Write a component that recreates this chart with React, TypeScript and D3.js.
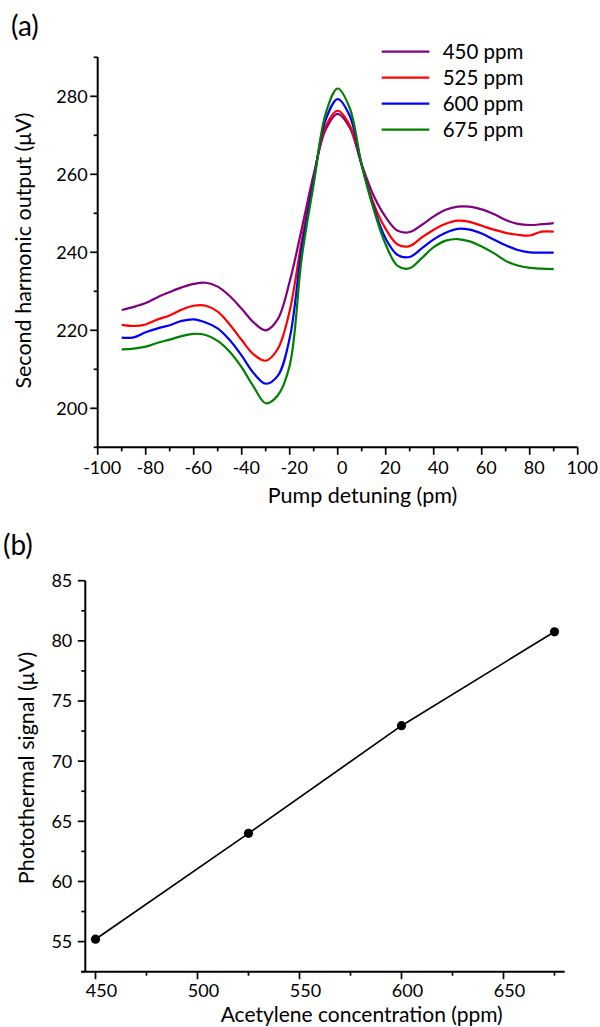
import React from "react";
import * as d3 from "d3";

// ---------- Panel (a) data ----------
const detuning = [-90, -85, -80, -75, -70, -65, -60, -55, -50, -45, -40, -35, -30, -25, -20, -15, -10, -5, 0, 5, 10, 15, 20, 25, 30, 35, 40, 45, 50, 55, 60, 65, 70, 75, 80, 85, 90];
const ppm450 = [225.2, 226.0, 227.0, 228.5, 229.8, 231.0, 231.9, 232.2, 231.2, 228.8, 225.5, 222.0, 220.0, 222.8, 232.5, 246.0, 260.0, 271.5, 275.5, 272.0, 262.5, 254.5, 249.0, 245.5, 245.2, 247.0, 249.2, 250.9, 251.7, 251.7, 251.0, 249.8, 248.3, 247.3, 247.0, 247.2, 247.5];
const ppm525 = [221.4, 221.1, 221.5, 222.8, 223.8, 225.3, 226.3, 226.3, 224.8, 221.5, 217.5, 213.8, 212.2, 215.2, 225.0, 243.0, 259.0, 272.3, 276.3, 272.6, 262.4, 252.5, 246.0, 242.0, 241.6, 243.8, 245.8, 247.3, 248.1, 247.8, 246.8, 245.8, 245.0, 244.5, 244.3, 245.3, 245.3];
const ppm600 = [218.1, 218.2, 219.5, 220.5, 221.3, 222.4, 222.8, 222.0, 220.5, 217.5, 213.5, 209.0, 206.3, 208.3, 218.0, 241.0, 258.5, 274.0, 279.3, 275.0, 262.4, 251.5, 243.5, 239.3, 238.8, 241.0, 243.3, 245.0, 246.0, 245.8, 244.8, 243.3, 241.8, 240.6, 240.0, 239.9, 239.9];
const ppm675 = [215.1, 215.3, 215.8, 216.8, 217.6, 218.5, 219.1, 218.8, 217.3, 214.5, 210.5, 205.5, 201.3, 203.3, 211.0, 238.5, 257.5, 275.6, 282.0, 277.0, 262.4, 251.0, 242.0, 236.5, 235.9, 238.5, 241.3, 243.0, 243.4, 242.8, 241.5, 239.8, 237.8, 236.6, 236.0, 235.8, 235.7];
const seriesNames = ["450 ppm", "525 ppm", "600 ppm", "675 ppm"];
const seriesColors = ["#800080", "#ff0000", "#0000ff", "#008000"];
const xTicksA = [-100, -80, -60, -40, -20, 0, 20, 40, 60, 80, 100];
const xMinorA = [-90, -70, -50, -30, -10, 10, 30, 50, 70, 90];
const yTicksA = [200, 220, 240, 260, 280];
const yMinorA = [190, 210, 230, 250, 270, 290];

// ---------- Panel (b) data ----------
const concentration = [450, 525, 600, 675];
const photothermal = [55.2, 64.0, 72.95, 80.75];
const xTicksB = [450, 500, 550, 600, 650];
const xMinorB = [475, 525, 575, 625, 675];
const yTicksB = [55, 60, 65, 70, 75, 80, 85];
const yMinorB = [52.5, 57.5, 62.5, 67.5, 72.5, 77.5, 82.5];

const FONT = "Lato, 'Open Sans', sans-serif";

export default function App() {
  // Panel (a) scales
  const xA = d3.scaleLinear().domain([-100, 100]).range([97.7, 577.7]);
  const yA = d3.scaleLinear().domain([190, 290]).range([447.3, 57.3]);
  const allSeries = [ppm450, ppm525, ppm600, ppm675];
  const lineA = d3
    .line<number>()
    .x((_, i) => xA(detuning[i]))
    .y((d) => yA(d))
    .curve(d3.curveCatmullRom.alpha(0.5));

  // Panel (b) scales
  const xB = d3.scaleLinear().domain([445, 680]).range([85.3, 564.7]);
  const yB = d3.scaleLinear().domain([52.5, 85]).range([971.7, 580.7]);
  const lineB = d3
    .line<number>()
    .x((_, i) => xB(concentration[i]))
    .y((d) => yB(d));

  const axisColor = "#000";
  const tickFont = 18;

  return (
    <svg width={600} height={1027} style={{ position: "absolute", left: 0, top: 0, background: "#fff" }} fontFamily={FONT}>
      <rect x={0} y={0} width={600} height={1027} fill="#fff" />
      {/* ===== Panel (a) ===== */}
      <text x={11} y={36} fontSize={28} fill="#000">(a)</text>
      {/* axes */}
      <line x1={xA(-100)} x2={xA(-100)} y1={yA(290)} y2={yA(190)} stroke={axisColor} strokeWidth={2} />
      <line x1={xA(-100) - 1} x2={xA(100)} y1={yA(190)} y2={yA(190)} stroke={axisColor} strokeWidth={2} />
      {yTicksA.map((t) => (
        <g key={"ya" + t}>
          <line x1={xA(-100) - 7.5} x2={xA(-100)} y1={yA(t)} y2={yA(t)} stroke={axisColor} strokeWidth={1.7} />
          <text x={xA(-100) - 10} y={yA(t)} dy="0.36em" textAnchor="end" fontSize={tickFont}>{t}</text>
        </g>
      ))}
      {yMinorA.map((t) => (
        <line key={"yam" + t} x1={xA(-100) - 4} x2={xA(-100)} y1={yA(t)} y2={yA(t)} stroke={axisColor} strokeWidth={1.7} />
      ))}
      {xTicksA.map((t) => (
        <g key={"xa" + t}>
          <line x1={xA(t)} x2={xA(t)} y1={yA(190)} y2={yA(190) + 7.5} stroke={axisColor} strokeWidth={1.7} />
          <text x={xA(t) + 4.5} y={473.5} textAnchor="middle" fontSize={tickFont}>{t}</text>
        </g>
      ))}
      {xMinorA.map((t) => (
        <line key={"xam" + t} x1={xA(t)} x2={xA(t)} y1={yA(190)} y2={yA(190) + 4} stroke={axisColor} strokeWidth={1.7} />
      ))}
      <text x={362.5} y={503} textAnchor="middle" fontSize={21.5}>Pump detuning (pm)</text>
      <text transform="translate(31,250.5) rotate(-90)" textAnchor="middle" fontSize={21.5}>Second harmonic output (μV)</text>
      {/* curves */}
      {allSeries.map((s, i) => (
        <path key={"s" + i} d={lineA(s) || ""} fill="none" stroke={seriesColors[i]} strokeWidth={2.2} />
      ))}
      {/* legend */}
      {seriesNames.map((n, i) => (
        <g key={"lg" + i}>
          <line x1={381.7} x2={429.3} y1={51.7 + i * 26} y2={51.7 + i * 26} stroke={seriesColors[i]} strokeWidth={2.2} />
          <text x={442.7} y={51.7 + i * 26} dy="0.36em" fontSize={20.5}>{n}</text>
        </g>
      ))}

      {/* ===== Panel (b) ===== */}
      <text x={3} y={555} fontSize={28} fill="#000">(b)</text>
      <line x1={xB(445)} x2={xB(445)} y1={yB(85)} y2={yB(52.5)} stroke={axisColor} strokeWidth={2} />
      <line x1={xB(445) - 4} x2={xB(680)} y1={yB(52.5)} y2={yB(52.5)} stroke={axisColor} strokeWidth={2} />
      {yTicksB.map((t) => (
        <g key={"yb" + t}>
          <line x1={xB(445) - 7.5} x2={xB(445)} y1={yB(t)} y2={yB(t)} stroke={axisColor} strokeWidth={1.7} />
          <text x={xB(445) - 13} y={yB(t)} dy="0.36em" textAnchor="end" fontSize={tickFont}>{t}</text>
        </g>
      ))}
      {yMinorB.map((t) => (
        <line key={"ybm" + t} x1={xB(445) - 4} x2={xB(445)} y1={yB(t)} y2={yB(t)} stroke={axisColor} strokeWidth={1.7} />
      ))}
      {xTicksB.map((t) => (
        <g key={"xb" + t}>
          <line x1={xB(t)} x2={xB(t)} y1={yB(52.5)} y2={yB(52.5) + 7.5} stroke={axisColor} strokeWidth={1.7} />
          <text x={xB(t) + 6} y={996.5} textAnchor="middle" fontSize={tickFont}>{t}</text>
        </g>
      ))}
      {xMinorB.map((t) => (
        <line key={"xbm" + t} x1={xB(t)} x2={xB(t)} y1={yB(52.5)} y2={yB(52.5) + 4} stroke={axisColor} strokeWidth={1.7} />
      ))}
      <text x={361.7} y={1022} textAnchor="middle" fontSize={21}>Acetylene concentration (ppm)</text>
      <text transform="translate(34,768) rotate(-90)" textAnchor="middle" fontSize={21.5}>Photothermal signal (μV)</text>
      <path d={lineB(photothermal) || ""} fill="none" stroke="#000" strokeWidth={1.7} />
      {photothermal.map((v, i) => (
        <circle key={"pt" + i} cx={xB(concentration[i])} cy={yB(v)} r={4.6} fill="#000" />
      ))}
    </svg>
  );
}
